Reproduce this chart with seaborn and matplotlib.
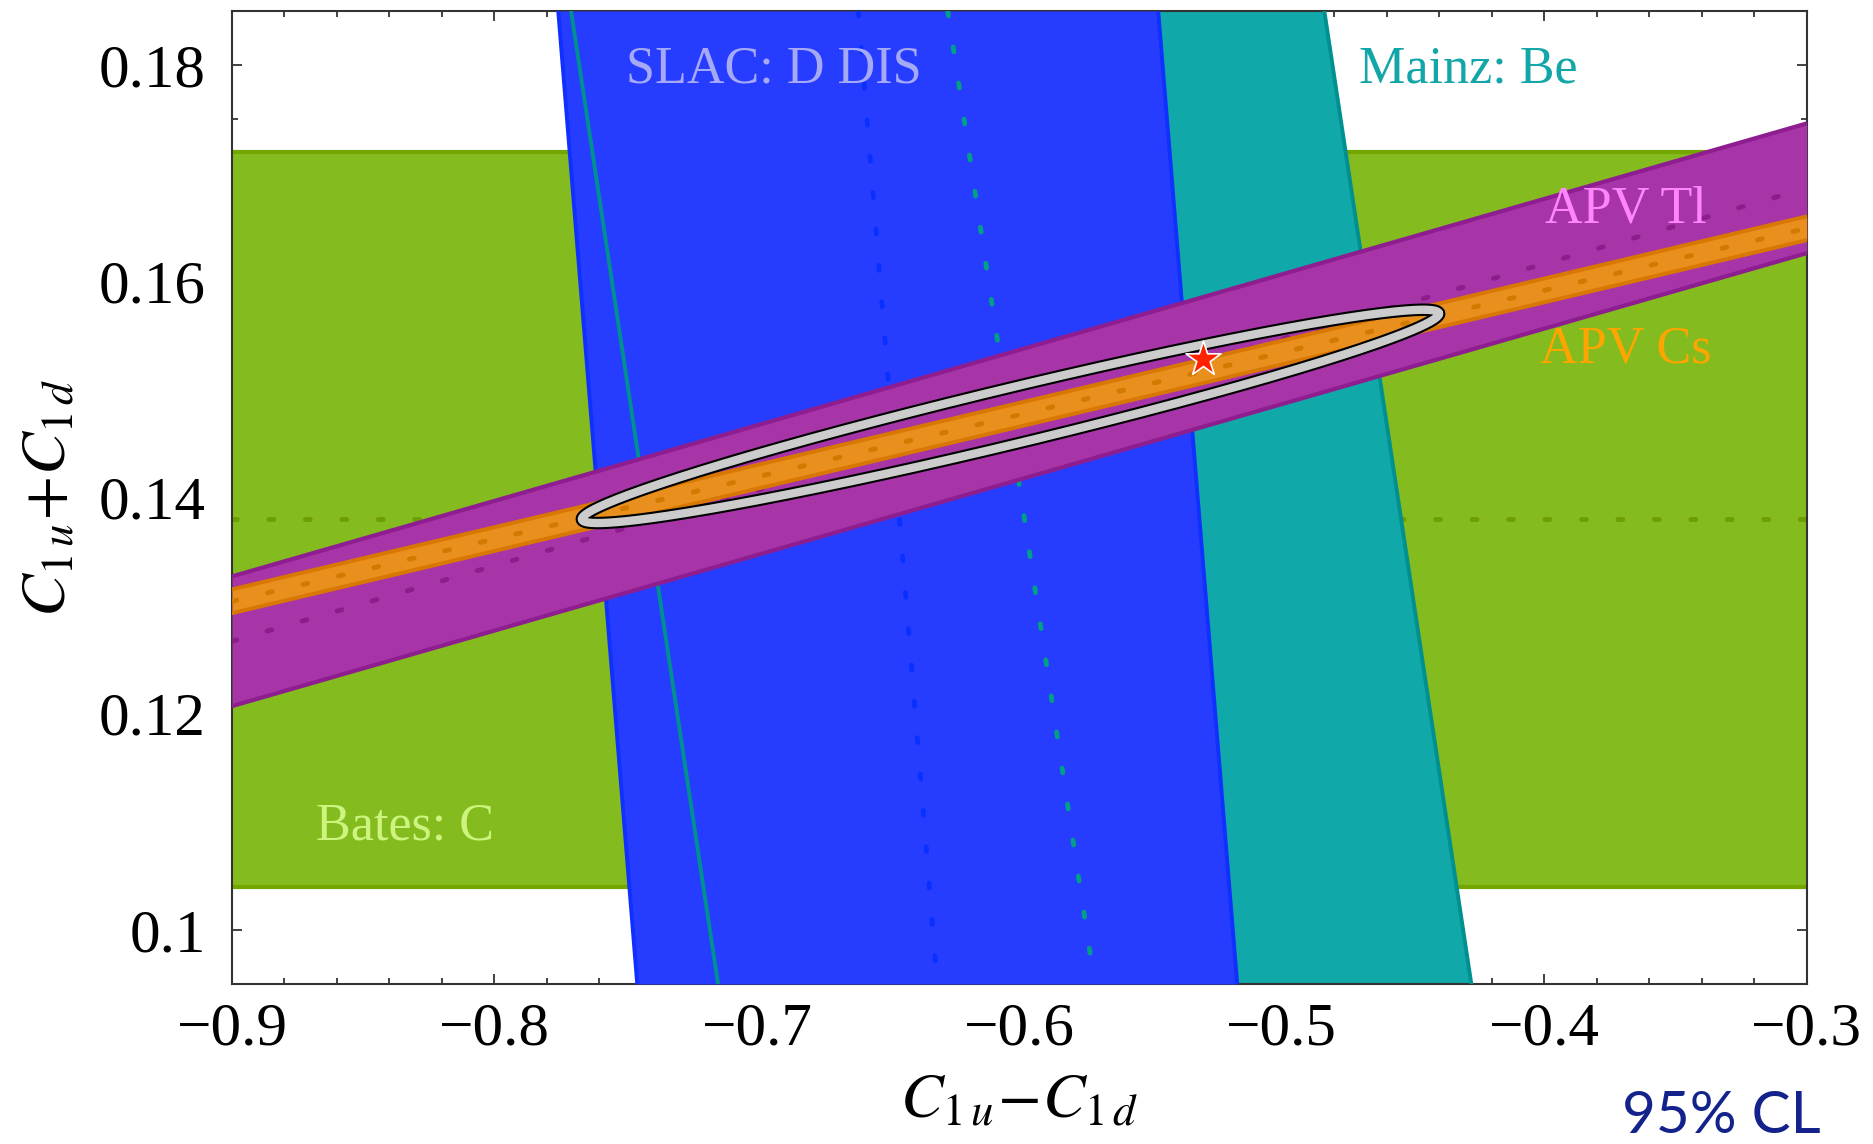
import numpy as np
import pandas as pd
import matplotlib.pyplot as plt
import seaborn as sns
from matplotlib.ticker import MultipleLocator, FixedLocator, FixedFormatter

sns.set_theme(style="ticks")
plt.rcParams['font.family'] = ['Liberation Serif', 'DejaVu Serif']
plt.rcParams['mathtext.fontset'] = 'stix'
plt.rcParams['axes.unicode_minus'] = True

# plot range (C1u-C1d, C1u+C1d)
x_range = [-0.9, -0.3]
y_range = [0.095, 0.185]

# Bates: C  (horizontal band)
bates_center = 0.1380
bates_half = 0.0340

# SLAC: D DIS (near vertical band), centre x read at top / bottom of plot
slac_y = [0.185, 0.095]
slac_center = [-0.6614, -0.6313]
slac_half = 0.1143

# Mainz: Be
mainz_y = [0.185, 0.095]
mainz_center = [-0.6273, -0.5713]
mainz_half = 0.1435

# APV Tl, centre y read at left / right edge
tl_x = [-0.9, -0.3]
tl_center = [0.1267, 0.1686]
tl_half = 0.0060

# APV Cs
cs_x = [-0.9, -0.3]
cs_center = [0.1304, 0.1649]
cs_half = 0.0011

# combined fit ellipse: centre, semi-major vector, vertical half width
fit_center = (-0.6034, 0.1475)
fit_major = (0.1633, 0.0095)
fit_minor_dy = 0.00266

# standard model point
sm_x = [-0.5299]
sm_y = [0.1528]

x_ticks = [-0.9, -0.8, -0.7, -0.6, -0.5, -0.4, -0.3]
x_labels = ['\u22120.9', '\u22120.8', '\u22120.7', '\u22120.6', '\u22120.5', '\u22120.4', '\u22120.3']
y_ticks = [0.10, 0.12, 0.14, 0.16, 0.18]
y_labels = ['0.1', '0.12', '0.14', '0.16', '0.18']

dot = dict(linestyle=(0, (1.0, 6.5)), dash_capstyle='round', lw=3.5)

fig = plt.figure(figsize=(18.74, 11.44), dpi=100)
ax = fig.add_axes([0.1238, 0.1399, 0.8403, 0.8505])

# Bates
bx = np.array(x_range)
ax.fill_between(bx, bates_center - bates_half, bates_center + bates_half, color='#84BC1F', lw=0, zorder=1)
for yy in [bates_center - bates_half, bates_center + bates_half]:
    ax.plot(bx, [yy, yy], color='#74A600', lw=3, zorder=1.1)
ax.plot(bx, [bates_center, bates_center], color='#6E9E00', zorder=1.1, **dot)

# Mainz fill, then SLAC fill
my = np.array(mainz_y)
mc = np.array(mainz_center)
ax.fill_betweenx(my, mc - mainz_half, mc + mainz_half, color='#11A8AA', lw=0, zorder=2)
sy = np.array(slac_y)
sc = np.array(slac_center)
ax.fill_betweenx(sy, sc - slac_half, sc + slac_half, color='#263CFF', lw=0, zorder=3)

# Mainz lines
mainz_df = pd.DataFrame({'y': np.concatenate([my, my]),
                         'x': np.concatenate([mc - mainz_half, mc + mainz_half]),
                         'edge': ['l', 'l', 'r', 'r']})
for e, g in mainz_df.groupby('edge'):
    sns.lineplot(data=g, x='x', y='y', sort=False, color='#00908F', lw=2.8, ax=ax, zorder=4)
sns.lineplot(x=mc, y=my, sort=False, color='#00A088', ax=ax, zorder=4, **dot)

# SLAC lines
for e in [sc - slac_half, sc + slac_half]:
    sns.lineplot(x=e, y=sy, sort=False, color='#1030FF', lw=2.8, ax=ax, zorder=4)
sns.lineplot(x=sc, y=sy, sort=False, color='#0A30FF', ax=ax, zorder=4, **dot)

# APV Tl
tx = np.array(tl_x)
tc = np.array(tl_center)
ax.fill_between(tx, tc - tl_half, tc + tl_half, color='#A835A8', lw=0, zorder=5)
for e in [tc - tl_half, tc + tl_half]:
    sns.lineplot(x=tx, y=e, color='#8E1E90', lw=3, ax=ax, zorder=5.1)
sns.lineplot(x=tx, y=tc, color='#8C1E8C', ax=ax, zorder=5.1, **dot)

# APV Cs
cx = np.array(cs_x)
cc = np.array(cs_center)
ax.fill_between(cx, cc - cs_half, cc + cs_half, color='#E98F1E', lw=0, zorder=6)
for e in [cc - cs_half, cc + cs_half]:
    sns.lineplot(x=cx, y=e, color='#D87800', lw=2.8, ax=ax, zorder=6.1)
sns.lineplot(x=cx, y=cc, color='#D07A00', ax=ax, zorder=6.1, **dot)

# combined ellipse ring
t = np.linspace(0, 2 * np.pi, 600)
ex = fit_center[0] + fit_major[0] * np.cos(t)
ey = fit_center[1] + fit_major[1] * np.cos(t) + fit_minor_dy * np.sin(t)
ax.plot(ex, ey, color='black', lw=9, solid_joinstyle='round', zorder=7)
ax.plot(ex, ey, color='#CCCCCC', lw=6, solid_joinstyle='round', zorder=7.1)

# SM star
sns.scatterplot(x=sm_x, y=sm_y, marker='*', s=700, color='#FF2200', edgecolor='white',
                linewidth=1.2, ax=ax, zorder=8)

# labels inside
txt = dict(fontsize=37.5, va='baseline', ha='left', zorder=9)
ax.text(-0.7500, 0.17840, 'SLAC: D DIS', color='#A6A9F5', **txt)
ax.text(-0.4707, 0.17843, 'Mainz: Be', color='#12A6A8', **txt)
ax.text(-0.3997, 0.16548, 'APV Tl', color='#FF85FF', **txt)
ax.text(-0.4017, 0.15245, 'APV Cs', color='#FFA500', **txt)
ax.text(-0.8681, 0.10840, 'Bates: C', color='#CCF47E', **txt)

ax.set_xlim(x_range)
ax.set_ylim(y_range)
ax.xaxis.set_major_locator(FixedLocator(x_ticks))
ax.xaxis.set_major_formatter(FixedFormatter(x_labels))
ax.yaxis.set_major_locator(FixedLocator(y_ticks))
ax.yaxis.set_major_formatter(FixedFormatter(y_labels))
ax.xaxis.set_minor_locator(MultipleLocator(0.02))
ax.yaxis.set_minor_locator(MultipleLocator(0.005))
ax.tick_params(which='both', direction='in', top=True, right=True, color='#222222', width=1.2)
ax.tick_params(which='major', length=7.5, labelsize=44, labelcolor='black')
ax.tick_params(which='minor', length=4.3)
ax.tick_params(axis='x', pad=13)
ax.tick_params(axis='y', pad=19)
for s in ax.spines.values():
    s.set_linewidth(1.5)
    s.set_color('#333333')

ax.set_xlabel(r'$C_{1\,u}\!-\!C_{1\,d}$', fontsize=46, color='black')
ax.set_ylabel(r'$C_{1\,u}\!+\!C_{1\,d}$', fontsize=46, color='black')
ax.xaxis.set_label_coords(0.5, -0.092)
ax.yaxis.set_label_coords(-0.097, 0.5)

fig.text(0.9715, 0.024, '95% CL', color='#14238C', fontsize=42, ha='right', va='center',
         family=['Lato', 'DejaVu Sans'])

fig.savefig('out.png', dpi=100)
